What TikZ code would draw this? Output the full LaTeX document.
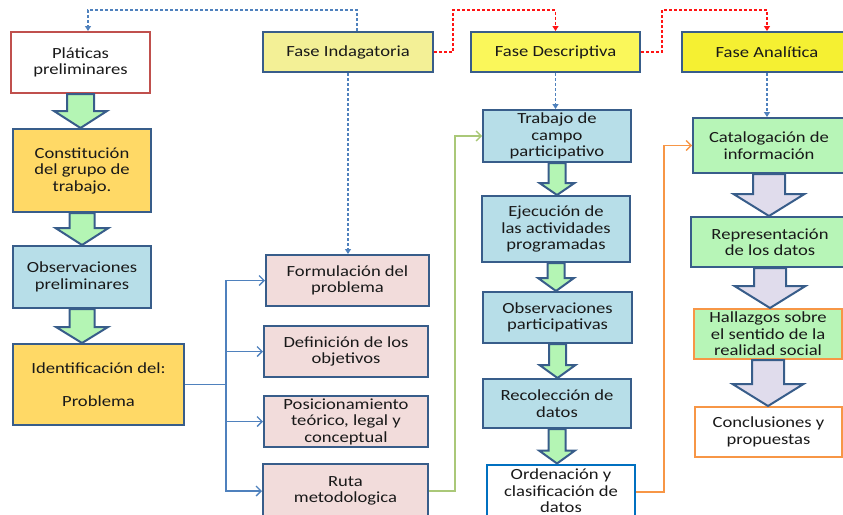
\documentclass[tikz,border=0pt]{standalone}
\usepackage{fontspec}
\setmainfont{Carlito}[FakeStretch=1.2]
\usetikzlibrary{arrows.meta,calc}

% flecha de bloque: estilo, origen, destino, medio tallo, media punta, largo punta
\newcommand{\bloque}[6]{%
  \draw[#1] let \p1=(#2.south), \p2=(#3.north) in
    (\x1-#4pt,\y1) -- (\x1-#4pt,\y2+#6pt) -- (\x1-#5pt,\y2+#6pt) -- (\x1,\y2)
    -- (\x1+#5pt,\y2+#6pt) -- (\x1+#4pt,\y2+#6pt) -- (\x1+#4pt,\y1) -- cycle;}

\begin{document}
\begin{tikzpicture}[x=1pt,y=-1pt,
    caja/.style={rectangle,draw=borde,line width=2pt,align=center,inner sep=1pt,
      text=texto,font=\fontsize{15.5}{16.5}\selectfont},
    flechaverde/.style={draw=borde,fill=verdeflecha,line width=2pt,line join=miter},
    flechalila/.style={draw=borde,fill=lila,line width=2pt,line join=miter},
    guia/.style={dash pattern=on 3pt off 2pt,line width=1.2pt,-{Triangle[length=5pt,width=6pt]}},
    rama/.style={line width=1.3pt,-{Straight Barb[length=5pt,width=10pt]}}]
    \definecolor{borde}{RGB}{56,93,138}
    \definecolor{texto}{RGB}{25,25,25}
    \definecolor{rojoborde}{RGB}{192,80,77}
    \definecolor{amarillo1}{RGB}{243,240,150}
    \definecolor{amarillo2}{RGB}{250,247,90}
    \definecolor{amarillo3}{RGB}{245,240,50}
    \definecolor{naranjaclaro}{RGB}{255,217,102}
    \definecolor{celeste}{RGB}{183,222,232}
    \definecolor{rosa}{RGB}{242,220,219}
    \definecolor{verdeflecha}{RGB}{180,245,180}
    \definecolor{verdecaja}{RGB}{183,245,183}
    \definecolor{lila}{RGB}{224,220,236}
    \definecolor{naranja}{RGB}{247,150,70}
    \definecolor{azul}{RGB}{79,129,189}
    \definecolor{azulfuerte}{RGB}{0,112,192}
    \definecolor{rojo}{RGB}{255,20,20}
    \definecolor{verdelinea}{RGB}{170,200,120}
    \useasboundingbox (0,0) rectangle (843,514);
    \clip (0,0) rectangle (843,514);

    % primera columna
    \node[caja,draw=rojoborde,line width=2pt,fill=white,minimum width=139,minimum height=61] (platicas) at (80.5,62.5) {Pláticas\\preliminares};
    \node[caja,fill=naranjaclaro,minimum width=138,minimum height=83] (constitucion) at (82,170.5) {Constitución\\del grupo de\\trabajo.};
    \node[caja,fill=celeste,minimum width=138,minimum height=62] (obsprel) at (82,277) {Observaciones\\preliminares};
    \node[caja,fill=naranjaclaro,minimum width=171,minimum height=81] (identificacion) at (98.5,384.5) {Identificación del:\\[16.5pt]Problema};

    % fase indagatoria
    \node[caja,fill=amarillo1,minimum width=170,minimum height=40] (faseind) at (348,52) {Fase Indagatoria};
    \node[caja,fill=rosa,minimum width=163,minimum height=51] (formulacion) at (347.5,280.5) {Formulación del\\problema};
    \node[caja,fill=rosa,minimum width=164,minimum height=51] (definicion) at (346,351.5) {Definición de los\\objetivos};
    \node[caja,fill=rosa,minimum width=164,minimum height=51] (posicion) at (346,421.5) {Posicionamiento\\teórico, legal y\\conceptual};
    \node[caja,fill=rosa,minimum width=165,minimum height=54] (ruta) at (345.5,491) {Ruta\\metodologica};

    % fase descriptiva
    \node[caja,fill=amarillo2,minimum width=169,minimum height=40] (fasedesc) at (555.5,52) {Fase Descriptiva};
    \node[caja,fill=celeste,minimum width=148,minimum height=52] (trabajo) at (557,136) {Trabajo de\\campo\\participativo};
    \node[caja,fill=celeste,minimum width=148,minimum height=66] (ejecucion) at (556,229) {Ejecución de\\las actividades\\programadas};
    \node[caja,fill=celeste,minimum width=149,minimum height=51] (obspart) at (557.5,317.5) {Observaciones\\participativas};
    \node[caja,fill=celeste,minimum width=148,minimum height=49] (recoleccion) at (557,403.5) {Recolección de\\datos};
    \node[caja,draw=azulfuerte,fill=white,minimum width=148,minimum height=55,text depth=2pt] (ordenacion) at (561,492) {Ordenación y\\clasificación de\\datos};

    % fase analitica
    \node[caja,fill=amarillo3,minimum width=170,minimum height=40] (faseana) at (767,52) {Fase Analítica};
    \node[caja,fill=verdecaja,minimum width=152,minimum height=55] (catalogacion) at (769,145.5) {Catalogación de\\información};
    \node[caja,fill=verdecaja,minimum width=158,minimum height=50] (representacion) at (770,242) {Representación\\de los datos};
    \node[caja,draw=naranja,fill=verdecaja,minimum width=148,minimum height=50] (hallazgos) at (768,334) {Hallazgos sobre\\el sentido de la\\realidad social};
    \node[caja,draw=naranja,fill=white,minimum width=147,minimum height=50] (conclusiones) at (768.5,432) {Conclusiones y\\propuestas};

    % flechas de bloque
    \bloque{flechaverde}{platicas}{constitucion}{13.5}{26.5}{17}
    \bloque{flechaverde}{constitucion}{obsprel}{12.5}{26.5}{17}
    \bloque{flechaverde}{obsprel}{identificacion}{12.5}{26}{16}
    \bloque{flechaverde}{trabajo}{ejecucion}{8.5}{17.5}{12}
    \bloque{flechaverde}{ejecucion}{obspart}{8.5}{18}{13}
    \bloque{flechaverde}{obspart}{recoleccion}{8.5}{18}{13}
    \bloque{flechaverde}{recoleccion}{ordenacion}{8.5}{18}{13}
    \bloque{flechalila}{catalogacion}{representacion}{16}{35.5}{22}
    \bloque{flechalila}{representacion}{hallazgos}{16}{35.5}{22}
    \bloque{flechalila}{hallazgos}{conclusiones}{16}{35.5}{22}

    % lineas discontinuas entre fases
    \draw[guia,azul] ([xshift=9]faseind.north) -- ++(0,-21) -| ([xshift=7.5]platicas.north);
    \draw[guia,rojo] (faseind.east) -- ++(19,0) -- ++(0,-42) -| (fasedesc.north);
    \draw[guia,rojo] (fasedesc.east) -- ++(21,0) -- ++(0,-42) -| (faseana.north);
    \draw[guia,azul] (faseind.south) -- (faseind.south |- formulacion.north);
    \draw[guia,azul] (fasedesc.south) -- (fasedesc.south |- trabajo.north);
    \draw[guia,azul] (faseana.south) -- (faseana.south |- catalogacion.north);

    % ramas del problema
    \coordinate (nudo) at ([xshift=41]identificacion.east);
    \draw[azul,line width=1.3pt] (identificacion.east) -- (nudo);
    \foreach \destino in {formulacion,definicion,posicion,ruta}
      \draw[rama,azul] (nudo) |- (\destino.west);

    % enlaces entre columnas
    \draw[rama,verdelinea] (ruta.east) -- ++(26,0) |- (trabajo.west);
    \draw[rama,naranja] (ordenacion.east) -- ++(28,0) |- (catalogacion.west);
\end{tikzpicture}
\end{document}
